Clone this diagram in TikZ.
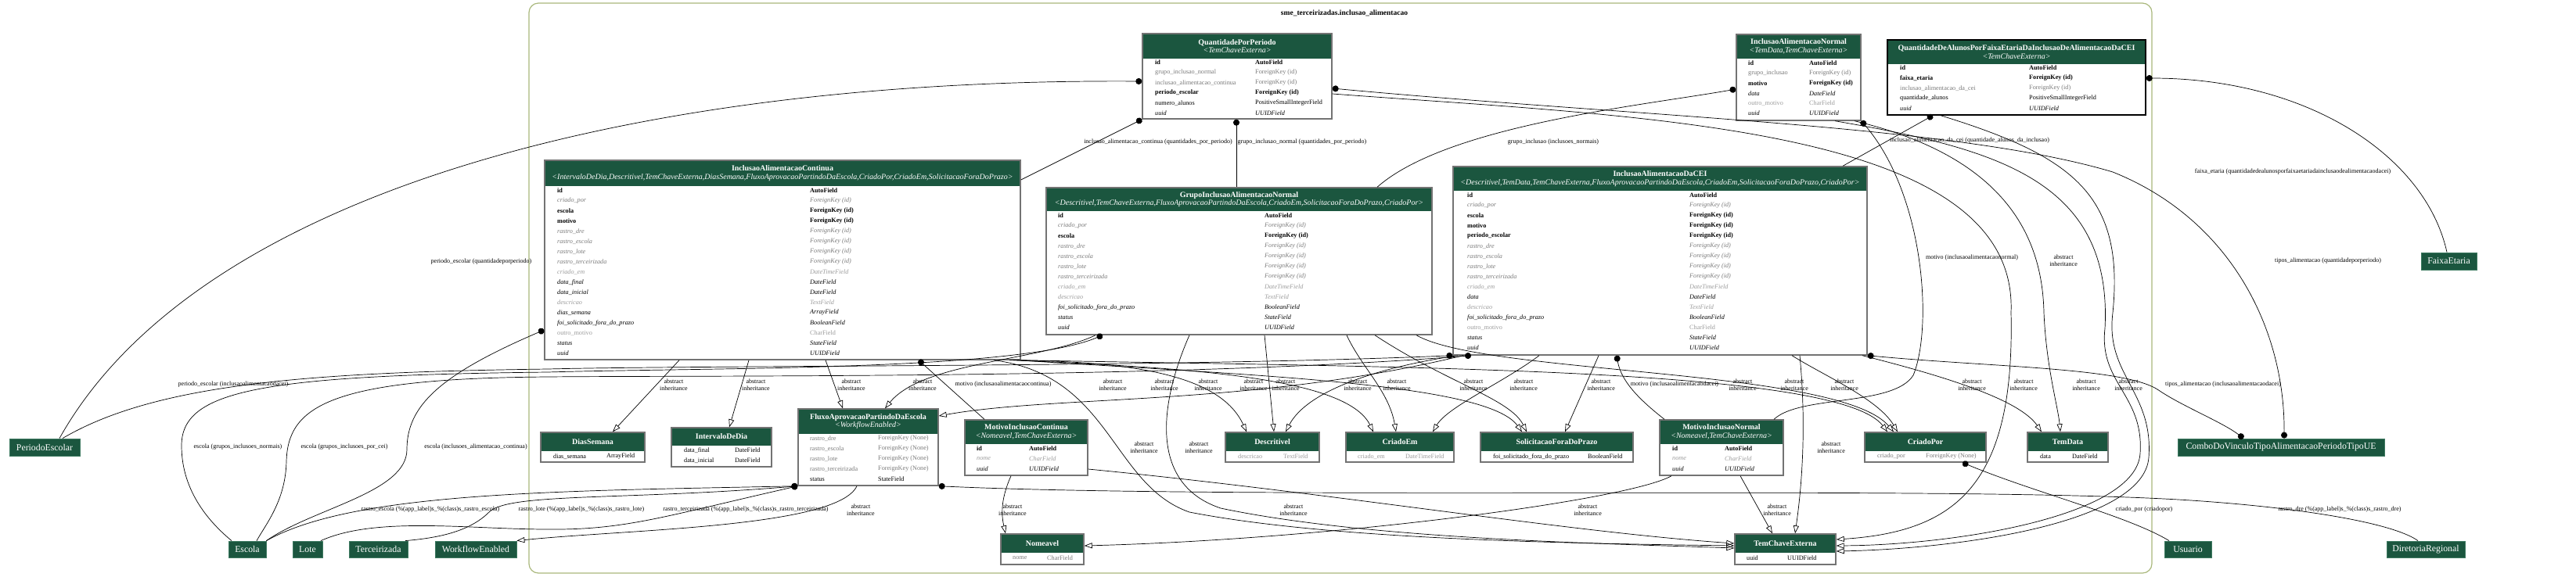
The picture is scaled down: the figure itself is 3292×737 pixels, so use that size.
\documentclass[tikz,border=0pt]{standalone}
\usepackage{fontspec}
\setmainfont{Liberation Serif}
\usetikzlibrary{arrows.meta}
\definecolor{hdr}{HTML}{1B563F}
\definecolor{hdrl}{HTML}{3E7A61}
\definecolor{tgray}{HTML}{7B7B7B}
\definecolor{lgray}{HTML}{9C9C9C}
\definecolor{clus}{HTML}{A9B87C}
\definecolor{bord}{HTML}{737373}
\newcommand\fb[1]{\textbf{#1}}
\newcommand\fg[1]{\textcolor{tgray}{#1}}
\newcommand\fgi[1]{\textcolor{tgray}{\textit{#1}}}
\newcommand\flg[1]{\textcolor{lgray}{#1}}
\newcommand\flgi[1]{\textcolor{lgray}{\textit{#1}}}
\newcommand\fit[1]{\textit{#1}}
\newcommand\fn[1]{#1}
\newcounter{rc}
\newcounter{lc}
\newcommand\myrow[5]{\stepcounter{rc}%
  \node[rowt] (rn\arabic{rc}) at (#1,#3) {#4};%
  \node[rowt] (rt\arabic{rc}) at (#2,#3) {#5};}
\newcommand\mytable[8]{%
  \pgfmathsetmacro\tw{#3-#2}\pgfmathsetmacro\tht{#6-#4}%
  \pgfmathsetmacro\tcx{(#2+#3)/2}\pgfmathsetmacro\tcy{(#4+#6)/2}%
  \pgfmathsetmacro\thy{(#4+#5)/2}%
  \fill[white] (#2,#4) rectangle (#3,#6);
  \fill[hdr] (#2,#4) rectangle (#3,#5);
  \node[hdrt] (#1h) at (\tcx,\thy) {#7};
  \node[draw=#8,line width=1.4pt,inner sep=0pt,minimum width=\tw pt,minimum height=\tht pt] (#1) at (\tcx,\tcy) {};}
\newcommand\myext[6]{%
  \pgfmathsetmacro\ew{#3-#2}\pgfmathsetmacro\eh{#5-#4}%
  \pgfmathsetmacro\ecx{(#2+#3)/2}\pgfmathsetmacro\ecy{(#4+#5)/2}%
  \node[extbox,minimum width=\ew pt,minimum height=\eh pt] (#1) at (\ecx,\ecy) {#6};}
\newcommand\ainh[2]{\stepcounter{lc}\node[elab] (ai\arabic{lc}) at (#1,#2) {abstract\\inheritance};}
\begin{document}
\begin{tikzpicture}[x=1pt,y=-1pt,
  rowt/.style={anchor=west,inner sep=0pt,font=\fontsize{8.2}{9}\selectfont},
  hdrt/.style={text=white,align=center,inner sep=0pt,font=\fontsize{10}{10.5}\selectfont},
  elab/.style={inner sep=0pt,align=center,font=\fontsize{8}{9}\selectfont},
  extbox/.style={fill=hdr,draw=hdrl,line width=0.8pt,text=white,inner sep=0pt,font=\fontsize{11.8}{12}\selectfont},
  inh/.style={-{Triangle[open,length=10pt,width=7pt]},line width=0.7pt},
  fk/.style={{Circle[length=8pt]}-,line width=0.7pt},
  mm/.style={{Circle[length=8pt]}-{Circle[length=8pt]},line width=0.7pt}]
\useasboundingbox (0,0) rectangle (3292,737);
\fill[white] (0,0) rectangle (3292,737);
\draw[clus,line width=1.2pt,rounded corners=12pt] (676,4) rectangle (2750,733);
\node[font=\bfseries\fontsize{9.5}{10}\selectfont,inner sep=0pt] (ctitle) at (1718,17) {sme\_terceirizadas.inclusao\_alimentacao};

% ---------- tables ----------
\mytable{qpp}{1460}{1702}{43}{75}{152}{\textbf{QuantidadePorPeriodo}\\\textit{<TemChaveExterna>}}{bord}
\myrow{1476}{1604}{80}{\fb{id}}{\fb{AutoField}}
\myrow{1476}{1604}{93}{\fg{grupo\_inclusao\_normal}}{\fg{ForeignKey (id)}}
\myrow{1476}{1604}{106}{\fg{inclusao\_alimentacao\_continua}}{\fg{ForeignKey (id)}}
\myrow{1476}{1604}{119}{\fb{periodo\_escolar}}{\fb{ForeignKey (id)}}
\myrow{1476}{1604}{132}{\fn{numero\_alunos}}{\fn{PositiveSmallIntegerField}}
\myrow{1476}{1604}{145}{\fit{uuid}}{\fit{UUIDField}}

\mytable{ina}{2219}{2378}{44}{75}{154}{\textbf{InclusaoAlimentacaoNormal}\\\textit{<TemData,TemChaveExterna>}}{bord}
\myrow{2234}{2312}{81}{\fb{id}}{\fb{AutoField}}
\myrow{2234}{2312}{94}{\fg{grupo\_inclusao}}{\fg{ForeignKey (id)}}
\myrow{2234}{2312}{107}{\fb{motivo}}{\fb{ForeignKey (id)}}
\myrow{2234}{2312}{120}{\fit{data}}{\fit{DateField}}
\myrow{2234}{2312}{132}{\flg{outro\_motivo}}{\flg{CharField}}
\myrow{2234}{2312}{145}{\fit{uuid}}{\fit{UUIDField}}

\mytable{qda}{2412}{2742}{51}{82}{147}{\textbf{QuantidadeDeAlunosPorFaixaEtariaDaInclusaoDeAlimentacaoDaCEI}\\\textit{<TemChaveExterna>}}{black}
\myrow{2428}{2593}{87}{\fb{id}}{\fb{AutoField}}
\myrow{2428}{2593}{100}{\fb{faixa\_etaria}}{\fb{ForeignKey (id)}}
\myrow{2428}{2593}{113}{\fg{inclusao\_alimentacao\_da\_cei}}{\fg{ForeignKey (id)}}
\myrow{2428}{2593}{126}{\fn{quantidade\_alunos}}{\fn{PositiveSmallIntegerField}}
\myrow{2428}{2593}{139}{\fit{uuid}}{\fit{UUIDField}}

\mytable{iac}{696}{1304}{205}{238}{460}{\textbf{InclusaoAlimentacaoContinua}\\\textit{<IntervaloDeDia,Descritivel,TemChaveExterna,DiasSemana,FluxoAprovacaoPartindoDaEscola,CriadoPor,CriadoEm,SolicitacaoForaDoPrazo>}}{bord}
\myrow{712}{1035}{244}{\fb{id}}{\fb{AutoField}}
\myrow{712}{1035}{257}{\fgi{criado\_por}}{\fgi{ForeignKey (id)}}
\myrow{712}{1035}{270}{\fb{escola}}{\fb{ForeignKey (id)}}
\myrow{712}{1035}{283}{\fb{motivo}}{\fb{ForeignKey (id)}}
\myrow{712}{1035}{296}{\fgi{rastro\_dre}}{\fgi{ForeignKey (id)}}
\myrow{712}{1035}{309}{\fgi{rastro\_escola}}{\fgi{ForeignKey (id)}}
\myrow{712}{1035}{322}{\fgi{rastro\_lote}}{\fgi{ForeignKey (id)}}
\myrow{712}{1035}{335}{\fgi{rastro\_terceirizada}}{\fgi{ForeignKey (id)}}
\myrow{712}{1035}{348}{\flgi{criado\_em}}{\flgi{DateTimeField}}
\myrow{712}{1035}{361}{\fit{data\_final}}{\fit{DateField}}
\myrow{712}{1035}{374}{\fit{data\_inicial}}{\fit{DateField}}
\myrow{712}{1035}{387}{\flgi{descricao}}{\flgi{TextField}}
\myrow{712}{1035}{400}{\fit{dias\_semana}}{\fit{ArrayField}}
\myrow{712}{1035}{413}{\fit{foi\_solicitado\_fora\_do\_prazo}}{\fit{BooleanField}}
\myrow{712}{1035}{426}{\flg{outro\_motivo}}{\flg{CharField}}
\myrow{712}{1035}{439}{\fit{status}}{\fit{StateField}}
\myrow{712}{1035}{452}{\fit{uuid}}{\fit{UUIDField}}

\mytable{gi}{1337}{1830}{240}{270}{428}{\textbf{GrupoInclusaoAlimentacaoNormal}\\\textit{<Descritivel,TemChaveExterna,FluxoAprovacaoPartindoDaEscola,CriadoEm,SolicitacaoForaDoPrazo,CriadoPor>}}{bord}
\myrow{1352}{1616}{276}{\fb{id}}{\fb{AutoField}}
\myrow{1352}{1616}{289}{\fgi{criado\_por}}{\fgi{ForeignKey (id)}}
\myrow{1352}{1616}{302}{\fb{escola}}{\fb{ForeignKey (id)}}
\myrow{1352}{1616}{315}{\fgi{rastro\_dre}}{\fgi{ForeignKey (id)}}
\myrow{1352}{1616}{328}{\fgi{rastro\_escola}}{\fgi{ForeignKey (id)}}
\myrow{1352}{1616}{341}{\fgi{rastro\_lote}}{\fgi{ForeignKey (id)}}
\myrow{1352}{1616}{354}{\fgi{rastro\_terceirizada}}{\fgi{ForeignKey (id)}}
\myrow{1352}{1616}{367}{\flgi{criado\_em}}{\flgi{DateTimeField}}
\myrow{1352}{1616}{380}{\flgi{descricao}}{\flgi{TextField}}
\myrow{1352}{1616}{393}{\fit{foi\_solicitado\_fora\_do\_prazo}}{\fit{BooleanField}}
\myrow{1352}{1616}{406}{\fit{status}}{\fit{StateField}}
\myrow{1352}{1616}{419}{\fit{uuid}}{\fit{UUIDField}}

\mytable{cei}{1857}{2386}{213}{244}{454}{\textbf{InclusaoAlimentacaoDaCEI}\\\textit{<Descritivel,TemData,TemChaveExterna,FluxoAprovacaoPartindoDaEscola,CriadoEm,SolicitacaoForaDoPrazo,CriadoPor>}}{bord}
\myrow{1875}{2159}{250}{\fb{id}}{\fb{AutoField}}
\myrow{1875}{2159}{263}{\fgi{criado\_por}}{\fgi{ForeignKey (id)}}
\myrow{1875}{2159}{276}{\fb{escola}}{\fb{ForeignKey (id)}}
\myrow{1875}{2159}{289}{\fb{motivo}}{\fb{ForeignKey (id)}}
\myrow{1875}{2159}{302}{\fb{periodo\_escolar}}{\fb{ForeignKey (id)}}
\myrow{1875}{2159}{315}{\fgi{rastro\_dre}}{\fgi{ForeignKey (id)}}
\myrow{1875}{2159}{328}{\fgi{rastro\_escola}}{\fgi{ForeignKey (id)}}
\myrow{1875}{2159}{341}{\fgi{rastro\_lote}}{\fgi{ForeignKey (id)}}
\myrow{1875}{2159}{354}{\fgi{rastro\_terceirizada}}{\fgi{ForeignKey (id)}}
\myrow{1875}{2159}{367}{\flgi{criado\_em}}{\flgi{DateTimeField}}
\myrow{1875}{2159}{380}{\fit{data}}{\fit{DateField}}
\myrow{1875}{2159}{393}{\flgi{descricao}}{\flgi{TextField}}
\myrow{1875}{2159}{406}{\fit{foi\_solicitado\_fora\_do\_prazo}}{\fit{BooleanField}}
\myrow{1875}{2159}{419}{\flg{outro\_motivo}}{\flg{CharField}}
\myrow{1875}{2159}{432}{\fit{status}}{\fit{StateField}}
\myrow{1875}{2159}{445}{\fit{uuid}}{\fit{UUIDField}}

\mytable{dias}{691}{824}{553}{577}{591}{\textbf{DiasSemana}}{bord}
\myrow{707}{775}{584}{\fn{dias\_semana}}{\fn{ArrayField}}
\mytable{intv}{858}{986}{547}{570}{597}{\textbf{IntervaloDeDia}}{bord}
\myrow{874}{939}{576}{\fn{data\_final}}{\fn{DateField}}
\myrow{874}{939}{589}{\fn{data\_inicial}}{\fn{DateField}}
\mytable{fluxo}{1020}{1199}{523}{555}{621}{\textbf{FluxoAprovacaoPartindoDaEscola}\\\textit{<WorkflowEnabled>}}{bord}
\myrow{1035}{1122}{561}{\fg{rastro\_dre}}{\fg{ForeignKey (None)}}
\myrow{1035}{1122}{574}{\fg{rastro\_escola}}{\fg{ForeignKey (None)}}
\myrow{1035}{1122}{587}{\fg{rastro\_lote}}{\fg{ForeignKey (None)}}
\myrow{1035}{1122}{600}{\fg{rastro\_terceirizada}}{\fg{ForeignKey (None)}}
\myrow{1035}{1122}{613}{\fn{status}}{\fn{StateField}}
\mytable{mic}{1233}{1390}{537}{568}{608}{\textbf{MotivoInclusaoContinua}\\\textit{<Nomeavel,TemChaveExterna>}}{bord}
\myrow{1248}{1315}{574}{\fb{id}}{\fb{AutoField}}
\myrow{1248}{1315}{587}{\flgi{nome}}{\flgi{CharField}}
\myrow{1248}{1315}{600}{\fit{uuid}}{\fit{UUIDField}}
\mytable{nome}{1279}{1385}{683}{707}{722}{\textbf{Nomeavel}}{bord}
\myrow{1294}{1338}{714}{\fg{nome}}{\fg{CharField}}
\mytable{desc}{1566}{1686}{553}{577}{591}{\textbf{Descritivel}}{bord}
\myrow{1582}{1640}{584}{\flg{descricao}}{\flg{TextField}}
\mytable{cem}{1720}{1858}{553}{577}{591}{\textbf{CriadoEm}}{bord}
\myrow{1735}{1796}{584}{\flg{criado\_em}}{\flg{DateTimeField}}
\mytable{sfdp}{1892}{2087}{553}{577}{591}{\textbf{SolicitacaoForaDoPrazo}}{bord}
\myrow{1908}{2029}{584}{\fn{foi\_solicitado\_fora\_do\_prazo}}{\fn{BooleanField}}
\mytable{min}{2121}{2279}{537}{568}{608}{\textbf{MotivoInclusaoNormal}\\\textit{<Nomeavel,TemChaveExterna>}}{bord}
\myrow{2137}{2204}{574}{\fb{id}}{\fb{AutoField}}
\myrow{2137}{2204}{587}{\flgi{nome}}{\flgi{CharField}}
\myrow{2137}{2204}{600}{\fit{uuid}}{\fit{UUIDField}}
\mytable{cpor}{2383}{2538}{553}{577}{591}{\textbf{CriadoPor}}{bord}
\myrow{2399}{2461}{584}{\fg{criado\_por}}{\fg{ForeignKey (None)}}
\mytable{tdata}{2591}{2694}{553}{577}{591}{\textbf{TemData}}{bord}
\myrow{2607}{2648}{584}{\fn{data}}{\fn{DateField}}
\mytable{tce}{2217}{2346}{683}{707}{722}{\textbf{TemChaveExterna}}{bord}
\myrow{2232}{2284}{714}{\fn{uuid}}{\fn{UUIDField}}

% ---------- external nodes ----------
\myext{peri}{12}{102}{561}{583}{PeriodoEscolar}
\myext{escola}{292}{340}{692}{713}{Escola}
\myext{lote}{374}{412}{692}{713}{Lote}
\myext{terc}{446}{521}{692}{713}{Terceirizada}
\myext{wf}{556}{660}{692}{713}{WorkflowEnabled}
\myext{usu}{2766}{2826}{692}{713}{Usuario}
\myext{dre}{3050}{3150}{692}{713}{DiretoriaRegional}
\myext{faixa}{3094}{3165}{323}{345}{FaixaEtaria}
\myext{combo}{2783}{3047}{561}{583}{ComboDoVinculoTipoAlimentacaoPeriodoTipoUE}

% ---------- foreign keys ----------
\draw[fk] (1580,0 |- qpp.south) -- (1580,0 |- gi.north);
\draw[fk] (qpp.south west) -- (iac.east |- 0,230);
\draw[fk] (qpp.west |- 0,104) .. controls (800,100) and (250,250) .. (76,0 |- peri.north);
\draw[mm] (qpp.east |- 0,113) .. controls (2100,150) and (2500,160) .. (2700,220) .. controls (2850,280) and (2920,420) .. (2919,0 |- combo.north);
\draw[fk] (ina.west |- 0,114) .. controls (2100,135) and (1850,160) .. (1760,0 |- gi.north);
\draw[fk] (ina.south east) .. controls (2460,250) and (2470,420) .. (2445,480) .. controls (2420,520) and (2300,505) .. (2267,0 |- min.north);
\draw[fk] (cei.south west) .. controls (1500,470) and (900,467) .. (700,472) .. controls (400,476) and (200,490) .. (80,0 |- peri.north);
\draw[fk] (1409,0 |- gi.south) .. controls (1300,475) and (900,470) .. (700,476) .. controls (330,480) and (232,500) .. (232,570) .. controls (232,630) and (270,670) .. (296,0 |- escola.north);
\draw[fk] (1880,0 |- cei.south) .. controls (1500,485) and (900,480) .. (700,482) .. controls (420,484) and (368,520) .. (366,590) .. controls (365,640) and (340,670) .. (328,0 |- escola.north);
\draw[fk] (iac.west |- 0,422) .. controls (560,480) and (520,520) .. (520,575) .. controls (520,630) and (400,650) .. (escola.north east);
\draw[fk] (2066,0 |- cei.south) .. controls (2072,490) and (2100,515) .. (2127,0 |- min.north);
\draw[mm] (cei.south east) .. controls (2550,470) and (2720,470) .. (2760,500) .. controls (2790,520) and (2840,540) .. (2867,0 |- combo.north);
\draw[fk] (1174,0 |- iac.south) -- (1258,0 |- mic.north);
\draw[fk] (fluxo.south west) .. controls (700,628) and (450,630) .. (escola.north east);
\draw[fk] (fluxo.south west) .. controls (850,660) and (800,678) .. (700,677) .. controls (600,677) and (480,660) .. (410,0 |- lote.north);
\draw[fk] (fluxo.south west) .. controls (800,640) and (650,630) .. (625,655) .. controls (600,680) and (560,688) .. (518,0 |- terc.north);
\draw[fk] (fluxo.south east) .. controls (1600,640) and (2500,620) .. (2800,640) .. controls (2950,650) and (3060,670) .. (3090,0 |- dre.north);
\draw[fk] (2508,0 |- cpor.south) .. controls (2600,630) and (2720,660) .. (2772,0 |- usu.north);
\draw[fk] (qda.east |- 0,100) .. controls (2950,100) and (3100,200) .. (3127,0 |- faixa.north);
\draw[fk] (2470,0 |- qda.south) -- (2355,0 |- cei.north);

% ---------- abstract inheritance ----------
\draw[inh] (868,0 |- iac.south) -- (783,0 |- dias.north);
\draw[inh] (957,0 |- iac.south) -- (932,0 |- intv.north);
\draw[inh] (1055,0 |- iac.south) -- (1077,0 |- fluxo.north);
\draw[inh] (1400,0 |- gi.south) .. controls (1330,462) and (1180,462) .. (1131,0 |- fluxo.north);
\draw[inh] (1870,0 |- cei.south) .. controls (1600,520) and (1350,505) .. (fluxo.east |- 0,532);
\draw[inh] (1290,0 |- iac.south) .. controls (1450,462) and (1560,480) .. (1593,0 |- desc.north);
\draw[inh] (1295,0 |- iac.south) .. controls (1500,470) and (1720,480) .. (1755,0 |- cem.north);
\draw[inh] (1300,0 |- iac.south) .. controls (1600,480) and (1900,490) .. (1945,0 |- sfdp.north);
\draw[inh] (iac.south east) .. controls (1800,470) and (2350,470) .. (2412,0 |- cpor.north);
\draw[inh] (1270,0 |- iac.south) .. controls (1420,480) and (1420,620) .. (1520,655) .. controls (1700,690) and (2000,695) .. (tce.west |- 0,698);
\draw[inh] (1616,0 |- gi.south) -- (1628,0 |- desc.north);
\draw[inh] (1721,0 |- gi.south) .. controls (1740,470) and (1775,500) .. (1784,0 |- cem.north);
\draw[inh] (1757,0 |- gi.south) .. controls (1850,490) and (1930,510) .. (1951,0 |- sfdp.north);
\draw[inh] (1810,0 |- gi.south) .. controls (1900,480) and (2350,470) .. (2420,0 |- cpor.north);
\draw[inh] (1520,0 |- gi.south) .. controls (1480,520) and (1470,620) .. (1560,650) .. controls (1750,690) and (2050,695) .. (tce.west |- 0,701);
\draw[inh] (1863,0 |- cei.south) .. controls (1760,470) and (1670,500) .. (1643,0 |- desc.north);
\draw[inh] (1967,0 |- cei.south) .. controls (1920,490) and (1850,520) .. (1831,0 |- cem.north);
\draw[inh] (2043,0 |- cei.south) -- (2000,0 |- sfdp.north);
\draw[inh] (2290,0 |- cei.south) .. controls (2330,480) and (2400,510) .. (2425,0 |- cpor.north);
\draw[inh] (2380,0 |- cei.south) .. controls (2480,480) and (2580,510) .. (2609,0 |- tdata.north);
\draw[inh] (2300,0 |- cei.south) .. controls (2310,560) and (2300,640) .. (2294,0 |- tce.north);
\draw[inh] (2370,0 |- ina.south) .. controls (2560,200) and (2610,300) .. (2612,400) .. controls (2615,470) and (2630,520) .. (2633,0 |- tdata.north);
\draw[inh] (qpp.east |- 0,120) .. controls (2100,150) and (2580,160) .. (2570,400) .. controls (2575,620) and (2500,680) .. (tce.east |- 0,690);
\draw[inh] (2345,0 |- ina.south) .. controls (2550,190) and (2700,230) .. (2690,420) .. controls (2682,490) and (2740,505) .. (2735,580) .. controls (2730,660) and (2500,697) .. (tce.east |- 0,698);
\draw[inh] (2480,0 |- qda.south) .. controls (2650,200) and (2715,250) .. (2700,400) .. controls (2690,480) and (2752,500) .. (2746,585) .. controls (2740,670) and (2500,702) .. (tce.east |- 0,705);
\draw[inh] (1292,0 |- mic.south) .. controls (1278,640) and (1280,660) .. (1285,0 |- nome.north);
\draw[inh] (mic.east |- 0,600) .. controls (1700,630) and (2000,680) .. (tce.west |- 0,695);
\draw[inh] (2136,0 |- min.south) .. controls (2080,640) and (1700,690) .. (nome.east |- 0,698);
\draw[inh] (2224,0 |- min.south) -- (2265,0 |- tce.north);
\draw[inh] (1095,0 |- fluxo.south) .. controls (1070,675) and (800,677) .. (wf.north east);

% ---------- labels ----------
\ainh{861}{492}\ainh{966}{492}\ainh{1088}{492}\ainh{1179}{492}
\ainh{1422}{492}\ainh{1488}{492}\ainh{1544}{492}\ainh{1602}{492}\ainh{1643}{492}
\ainh{1735}{492}\ainh{1785}{492}\ainh{1883}{492}\ainh{1947}{492}\ainh{2046}{492}
\ainh{2227}{492}\ainh{2293}{492}\ainh{2357}{492}\ainh{2520}{492}\ainh{2586}{492}
\ainh{2666}{492}\ainh{2720}{492}\ainh{2637}{333}
\ainh{1462}{572}\ainh{1532}{572}\ainh{2340}{572}
\ainh{1100}{652}\ainh{1294}{652}\ainh{1653}{652}\ainh{2029}{652}\ainh{2271}{652}

\node[elab] (l1) at (1664,182) {grupo\_inclusao\_normal (quantidades\_por\_periodo)};
\node[elab] (l2) at (1480,182) {inclusao\_alimentacao\_continua (quantidades\_por\_periodo)};
\node[elab] (l3) at (615,335) {periodo\_escolar (quantidadeporperiodo)};
\node[elab] (l4) at (2975,334) {tipos\_alimentacao (quantidadeporperiodo)};
\node[elab] (l5) at (1985,182) {grupo\_inclusao (inclusoes\_normais)};
\node[elab] (l6) at (2520,330) {motivo (inclusaoalimentacaonormal)};
\node[elab] (l7) at (298,492) {periodo\_escolar (inclusaoalimentacaodacei)};
\node[elab] (l8) at (304,572) {escola (grupos\_inclusoes\_normais)};
\node[elab] (l9) at (440,572) {escola (grupos\_inclusoes\_por\_cei)};
\node[elab] (l10) at (608,572) {escola (inclusoes\_alimentacao\_continua)};
\node[elab] (l11) at (2140,492) {motivo (inclusaoalimentacaodacei)};
\node[elab] (l12) at (2841,492) {tipos\_alimentacao (inclusaoalimentacaodacei)};
\node[elab] (l13) at (1282,492) {motivo (inclusaoalimentacaocontinua)};
\node[elab] (l14) at (550,652) {rastro\_escola (\%(app\_label)s\_\%(class)s\_rastro\_escola)};
\node[elab] (l15) at (743,652) {rastro\_lote (\%(app\_label)s\_\%(class)s\_rastro\_lote)};
\node[elab] (l16) at (953,652) {rastro\_terceirizada (\%(app\_label)s\_\%(class)s\_rastro\_terceirizada)};
\node[elab] (l17) at (2990,652) {rastro\_dre (\%(app\_label)s\_\%(class)s\_rastro\_dre)};
\node[elab] (l18) at (2740,652) {criado\_por (criadopor)};
\node[elab] (l19) at (2930,220) {faixa\_etaria (quantidadedealunosporfaixaetariadainclusaodealimentacaodacei)};
\node[elab] (l20) at (2517,180) {inclusao\_alimentacao\_da\_cei (quantidade\_alunos\_da\_inclusao)};
\end{tikzpicture}
\end{document}
